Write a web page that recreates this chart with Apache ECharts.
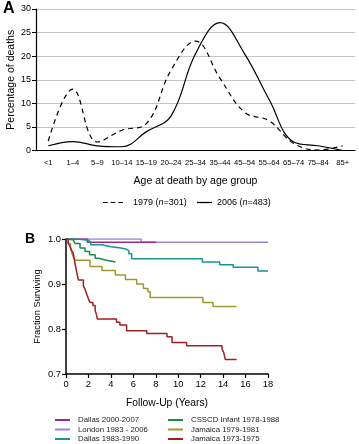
<!DOCTYPE html>
<html>
<head>
<meta charset="utf-8">
<script src="https://cdn.jsdelivr.net/npm/echarts@6/dist/echarts.min.js"></script>
<style>
html, body { margin: 0; padding: 0; background: #fff; }
#main { width: 359px; height: 444px; }
</style>
</head>
<body>
<div id="main"></div>
<script>
// panel A: percentage of deaths by age group
var ageGroups = ['<1', '1–4', '5–9', '10–14', '15–19', '20–24', '25–34', '35–44', '45–54', '55–64', '65–74', '75–84', '85+'];
var deaths1979 = [2.0, 13.0, 1.8, 4.3, 5.7, 17.0, 23.2, 15.3, 8.1, 6.3, 1.5, 0.1, 1.0];
var deaths2006 = [1.0, 1.9, 1.0, 0.8, 4.0, 7.3, 20.5, 27.1, 20.5, 10.8, 1.8, 1.0, 0.0];

// panel B: survival curves (time in years, fraction surviving)
var dallas00T = [0, 1.9, 8.0];
var dallas00S = [1.0, 0.993, 0.993];
var londonT = [0, 6.7, 18];
var londonS = [1.0, 0.993, 0.993];
var dallas83T = [0, 1.0, 2.0, 2.2, 3.2, 4.0, 4.9, 5.4, 5.6, 5.85, 12.15, 13.7, 14.9, 17.1, 18];
var dallas83S = [1.0, 0.997, 0.993, 0.987, 0.983, 0.980, 0.977, 0.974, 0.967, 0.956, 0.949, 0.943, 0.937, 0.929, 0.929];
var csscdT = [0, 0.2, 0.65, 0.8, 1.25, 1.7, 2.1, 2.6, 2.9, 3.6, 4.4];
var csscdS = [1.0, 0.998, 0.995, 0.990, 0.980, 0.972, 0.965, 0.957, 0.953, 0.949, 0.949];
var jam79T = [0, 0.2, 0.4, 0.5, 0.65, 0.8, 2.14, 3.2, 4.4, 5.3, 6.3, 6.9, 7.3, 7.5, 12.2, 13.1, 15.2];
var jam79S = [1.0, 0.99, 0.98, 0.97, 0.96, 0.953, 0.939, 0.93, 0.92, 0.91, 0.90, 0.89, 0.883, 0.870, 0.859, 0.850, 0.850];
var jam73T = [0, 0.2, 0.36, 0.5, 0.65, 0.8, 0.95, 1.1, 1.55, 1.7, 1.84, 2.0, 2.14, 2.4, 2.6, 2.7, 2.8, 4.5, 4.8, 5.4, 7.2, 9.0, 9.45, 10.75, 13.9, 14.05, 14.2, 15.2];
var jam73S = [1.0, 0.99, 0.983, 0.975, 0.968, 0.946, 0.927, 0.909, 0.896, 0.888, 0.878, 0.867, 0.859, 0.852, 0.841, 0.833, 0.822, 0.815, 0.809, 0.796, 0.790, 0.783, 0.770, 0.763, 0.756, 0.748, 0.732, 0.732];

var font = 'Liberation Sans, Arial, sans-serif';
var dashIcon = 'path://M0,0h5v1h-5z M8,0h5v1h-5z M16,0h5v1h-5z';

function pairs(t, s) {
	return t.map(function (x, i) { return [x, s[i]]; });
}

function survLine(name, color, t, s) {
	return {
		name: name,
		type: 'line',
		xAxisIndex: 1,
		yAxisIndex: 1,
		step: 'end',
		symbol: 'none',
		lineStyle: { color: color, width: 1.5 },
		itemStyle: { color: color },
		data: pairs(t, s)
	};
}

var legendA = {
	top: 198,
	padding: 0,
	itemHeight: 1.3,
	formatter: function (n) {
		return n === '1979' ? '1979 ({i|n}=301)' : '2006 ({i|n}=483)';
	},
	textStyle: {
		fontSize: 9, color: '#000', fontFamily: font,
		rich: { i: { fontStyle: 'italic', fontSize: 9, fontFamily: font } }
	}
};

var legendB = {
	orient: 'vertical',
	top: 416,
	padding: 0,
	icon: 'rect',
	itemWidth: 15,
	itemHeight: 2,
	itemGap: 1.5,
	textStyle: { fontSize: 7.8, lineHeight: 8, color: '#222', fontFamily: font, padding: [0, 0, 0, 3] }
};

var myChart = echarts.init(document.getElementById('main'));
var option = {
	animation: false,
	textStyle: { fontFamily: font },
	graphic: [
		{ type: 'text', left: 3, top: 1, style: { text: 'A', font: 'bold 16px ' + font, fill: '#000' } },
		{ type: 'text', left: 25, top: 232, style: { text: 'B', font: 'bold 14px ' + font, fill: '#000' } }
	],
	legend: [
		Object.assign({}, legendA, { data: [{ name: '1979', icon: dashIcon }], left: 103, itemWidth: 20,
			textStyle: Object.assign({}, legendA.textStyle, { padding: [0, 0, 0, 5] }) }),
		Object.assign({}, legendA, { data: [{ name: '2006', icon: 'rect' }], left: 197, itemWidth: 15 }),
		Object.assign({}, legendB, { data: ['Dallas 2000-2007', 'London 1983 - 2006', 'Dallas 1983-1990'], left: 55 }),
		Object.assign({}, legendB, { data: ['CSSCD Infant 1978-1988', 'Jamaica 1979-1981', 'Jamaica 1973-1975'], left: 168 })
	],
	grid: [
		{ left: 36, top: 9, width: 319, height: 141.5, containLabel: false, outerBoundsMode: 'none' },
		{ left: 66, top: 239, width: 202, height: 135, containLabel: false, outerBoundsMode: 'none' }
	],
	xAxis: [{
		gridIndex: 0,
		type: 'category',
		data: ageGroups,
		boundaryGap: true,
		name: 'Age at death by age group',
		nameLocation: 'middle',
		nameGap: 25,
		nameMoveOverlap: false,
		nameTextStyle: { fontSize: 10.5, color: '#000', fontFamily: font },
		axisLine: { lineStyle: { color: '#000', width: 1.2 } },
		axisTick: { interval: 0, length: 3, lineStyle: { color: '#000' } },
		axisLabel: { interval: 0, fontSize: 7.6, color: '#000', margin: 8 }
	}, {
		gridIndex: 1,
		type: 'value',
		min: 0,
		max: 18,
		interval: 2,
		name: 'Follow-Up (Years)',
		nameLocation: 'middle',
		nameGap: 24,
		nameMoveOverlap: false,
		nameTextStyle: { fontSize: 10.3, color: '#000', fontFamily: font },
		splitLine: { show: false },
		axisLine: { lineStyle: { color: '#000', width: 1.5 } },
		axisTick: { length: 4, lineStyle: { color: '#000', width: 1.2 } },
		axisLabel: { fontSize: 9.4, color: '#000', margin: 6 }
	}],
	yAxis: [{
		gridIndex: 0,
		type: 'value',
		min: 0,
		max: 30,
		interval: 5,
		name: 'Percentage of deaths',
		nameLocation: 'middle',
		nameGap: 19,
		nameMoveOverlap: false,
		nameTextStyle: { fontSize: 10.5, color: '#000', fontFamily: font },
		axisLine: { show: true, lineStyle: { color: '#000', width: 1.2 } },
		axisTick: { show: true, length: 4, lineStyle: { color: '#000' } },
		axisLabel: { fontSize: 9, color: '#000', margin: 5 },
		splitLine: { lineStyle: { color: '#c4c4c4', width: 1 } }
	}, {
		gridIndex: 1,
		type: 'value',
		min: 0.7,
		max: 1.0,
		interval: 0.1,
		name: 'Fraction Surviving',
		nameLocation: 'middle',
		nameGap: 24,
		nameMoveOverlap: false,
		nameTextStyle: { fontSize: 9.3, color: '#000', fontFamily: font },
		splitLine: { show: false },
		axisLine: { show: true, lineStyle: { color: '#000', width: 1.5 } },
		axisTick: { show: true, length: 4, lineStyle: { color: '#000', width: 1.2 } },
		axisLabel: { fontSize: 9.4, color: '#000', margin: 5, formatter: function (v) { return v.toFixed(1); } }
	}],
	series: [{
		name: '1979',
		type: 'line',
		smooth: 0.4,
		symbol: 'none',
		lineStyle: { color: '#000', width: 1.2, type: [5, 4] },
		itemStyle: { color: '#000' },
		data: deaths1979
	}, {
		name: '2006',
		type: 'line',
		smooth: 0.4,
		symbol: 'none',
		lineStyle: { color: '#000', width: 1.2 },
		itemStyle: { color: '#000' },
		data: deaths2006
	},
		survLine('London 1983 - 2006', '#9a86d4', londonT, londonS),
		survLine('Dallas 2000-2007', '#9c2a8e', dallas00T, dallas00S),
		survLine('Dallas 1983-1990', '#199494', dallas83T, dallas83S),
		survLine('CSSCD Infant 1978-1988', '#1b8c4e', csscdT, csscdS),
		survLine('Jamaica 1979-1981', '#9c9a2c', jam79T, jam79S),
		survLine('Jamaica 1973-1975', '#a01e24', jam73T, jam73S)
	]
};
myChart.setOption(option);
</script>
</body>
</html>
